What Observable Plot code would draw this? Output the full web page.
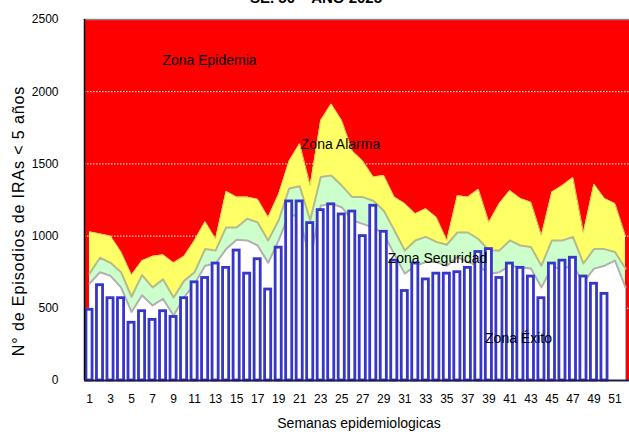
<!DOCTYPE html>
<html><head><meta charset="utf-8">
<script src="https://cdn.jsdelivr.net/npm/d3@7"></script>
<script src="https://cdn.jsdelivr.net/npm/@observablehq/plot@0.6"></script>
<style>
body{margin:0;background:#fff;}
#wrap{position:relative;width:629px;height:435px;overflow:hidden;font-family:"Liberation Sans",Arial,sans-serif;}
#title{position:absolute;top:-11px;left:0;width:632px;text-align:center;font:bold 15px "Liberation Sans",Arial,sans-serif;color:#000;}
</style></head><body>
<div id="wrap"><div id="chart"></div><div id="title">SE. 50 – AÑO 2025</div></div>
<script>
const semanas = d3.range(1, 53);
const casos = [490,660,570,570,400,480,420,480,440,570,680,710,810,780,900,740,840,630,920,1240,
  1240,1090,1180,1220,1150,1170,1000,1210,1030,830,620,810,700,740,740,750,780,890,910,710,
  810,780,720,570,810,830,850,720,670,600];
const umbralAlarma = [1030,1015,1000,890,730,830,860,870,815,860,970,1100,980,1310,1270,1270,1255,1130,1290,1520,
  1640,1350,1800,1915,1800,1590,1520,1410,1420,1270,1225,1155,1190,1130,970,1280,1270,1325,1095,1225,
  1315,1260,1235,1005,1305,1350,1405,1025,1360,1260,1225,1000];
const umbralSeguridad = [740,850,815,750,580,730,645,700,575,690,750,910,900,1060,1060,1120,1095,970,1110,1330,
  1345,1110,1410,1420,1350,1270,1270,1245,1175,1040,900,970,995,960,940,1025,1025,980,900,900,
  970,935,925,795,970,970,995,810,910,910,890,775];
const umbralExito = [670,750,725,645,475,590,520,565,450,575,670,795,810,910,975,970,935,815,970,1155,
  1130,830,1210,1225,1200,1110,1085,1060,1015,875,740,795,820,820,795,855,820,795,740,750,
  795,785,775,645,785,775,795,680,775,795,830,645];
const yTicks = [0, 500, 1000, 1500, 2000, 2500];
const xTickLabels = d3.range(1, 52, 2);
const grid = [500, 1000, 1500, 2000];
const zonas = ["Zona Epidemia", "Zona Alarma", "Zona Seguridad", "Zona Éxito"];
const yTitulo = "N° de Episodios de IRAs < 5 años";
const xTitulo = "Semanas epidemiologicas";

const serie = (arr) => semanas.map((s, i) => ({s, v: arr[i]}));
const barras = casos.map((v, i) => ({s: i + 1, v}));
const zonaPos = [[12.42, 2216], [24.88, 1634], [34.11, 845], [41.82, 291]];
const zonaData = zonas.map((t, i) => ({t, s: zonaPos[i][0], v: zonaPos[i][1]}));

const chart = Plot.plot({
  width: 629, height: 435,
  marginLeft: 84, marginRight: 0, marginTop: 19, marginBottom: 55,
  style: {fontFamily: '"Liberation Sans", Arial, sans-serif', background: "white"},
  x: {type: "linear", domain: [0.524, 52.38], label: null},
  y: {domain: [0, 2500], label: null},
  marks: [
    Plot.frame({fill: "#ff0000", stroke: null}),
    Plot.ruleY(grid, {stroke: "white", strokeDasharray: "1.5,1.5", strokeWidth: 1}),
    Plot.areaY(serie(umbralAlarma), {x: "s", y: "v", fill: "#ffff66"}),
    Plot.areaY(serie(umbralSeguridad), {x: "s", y: "v", fill: "#ccffcc"}),
    Plot.areaY(serie(umbralExito), {x: "s", y: "v", fill: "#ffffff"}),
    Plot.line(serie(umbralAlarma), {x: "s", y: "v", stroke: "#d6d65e", strokeWidth: 1}),
    Plot.line(serie(umbralSeguridad), {x: "s", y: "v", stroke: "#b6ba88", strokeWidth: 2}),
    Plot.line(serie(umbralExito), {x: "s", y: "v", stroke: "#b0b0b0", strokeWidth: 2}),
    Plot.ruleX([52], {y1: 0, y2: d => umbralExito[51], stroke: "#b0b0b0", strokeWidth: 1}),
    Plot.rectY(barras, {x1: d => d.s - 0.29, x2: d => d.s + 0.29, y1: 0, y2: "v", fill: "white", stroke: "#3636c8", strokeWidth: 2.8}),
    Plot.text(zonaData, {x: "s", y: "v", text: "t", fontSize: 14, fill: "#000"}),
    Plot.ruleY([2500], {stroke: "#888", strokeWidth: 1.5}),
    Plot.ruleX([0.524], {stroke: "#000", strokeWidth: 1.5}),
    Plot.ruleY([0], {stroke: "#1c1c4e", strokeWidth: 2}),
    Plot.axisY(yTicks, {tickSize: 0, tickPadding: 26, fontSize: 12, fill: "#000", tickFormat: d => String(d), label: null}),
    Plot.axisX(xTickLabels, {tickSize: 0, tickPadding: 14, fontSize: 12, fill: "#000", tickFormat: d => String(d), label: null}),
    Plot.text([yTitulo], {frameAnchor: "left", textAnchor: "middle", rotate: -90, dx: -66, dy: 21, fontSize: 16, fill: "#000"}),
    Plot.text([xTitulo], {frameAnchor: "bottom", dy: 47, dx: 2, fontSize: 14, fill: "#000"})
  ]
});
d3.select(chart).selectAll("text").filter(function() { return this.textContent === yTitulo; })
  .style("letter-spacing", "0.9px");
document.getElementById("chart").appendChild(chart);
</script>
</body></html>
